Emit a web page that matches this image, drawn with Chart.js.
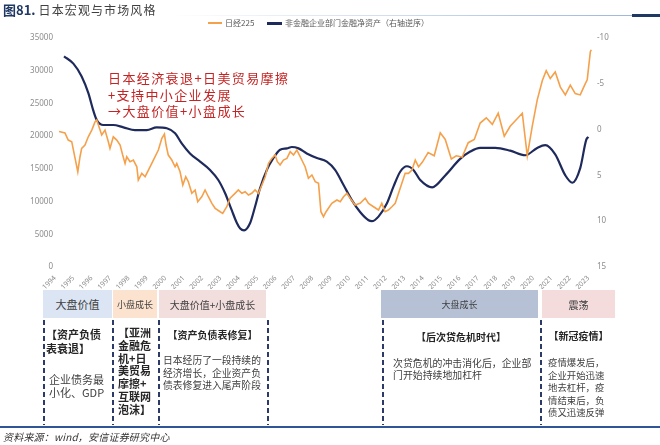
<!DOCTYPE html>
<html>
<head>
<meta charset="utf-8">
<script src="https://cdn.jsdelivr.net/npm/chart.js@4.4.1/dist/chart.umd.min.js"></script>
<style>
  body { margin: 0; background: #fff; }
  #wrap { position: relative; width: 660px; height: 445px; overflow: hidden;
          font-family: "Noto Sans CJK SC", "Noto Sans", sans-serif; color: #404040; }
  #wrap canvas { position: absolute; left: 0; top: 0; }
  .abs { position: absolute; white-space: nowrap; }
  .hdr { position: absolute; top: 290px; height: 28px; display: flex;
         align-items: center; justify-content: center; color: #404040; }
  .dash { position: absolute; top: 320px; height: 105px; width: 1.5px;
          background: repeating-linear-gradient(to bottom, #2b3a67 0 5px, transparent 5px 8px); }
  .bold { font-weight: bold; color: #262626; }
</style>
</head>
<body>
<div id="wrap">
  <canvas id="chart" width="660" height="445"></canvas>

  <!-- title -->
  <div class="abs" style="left:3px;top:0px;line-height:16px;">
    <span style="font-size:13px;font-weight:bold;color:#1f3864;">图81.</span><span style="font-size:12px;letter-spacing:1.1px;color:#404040;margin-left:3px;">日本宏观与市场风格</span>
  </div>
  <div class="abs" style="left:170px;top:15px;width:462px;height:1px;background:linear-gradient(to right,#ffffff,#9fb6dc);"></div>
  <div class="abs" style="left:632px;top:14px;width:28px;height:3px;background:#1f3864;"></div>

  <!-- legend -->
  <div class="abs" style="left:208px;top:22px;width:14px;height:2px;background:#f5a04a;"></div>
  <div class="abs" style="left:225px;top:17px;font-size:8px;line-height:12px;color:#595959;">日经225</div>
  <div class="abs" style="left:267px;top:22px;width:15px;height:2.5px;background:#1f2a5c;"></div>
  <div class="abs" style="left:285px;top:17px;font-size:8px;line-height:12px;color:#595959;">非金融企业部门金融净资产（右轴逆序）</div>

  <!-- annotation -->
  <div class="abs" style="left:108px;top:70px;font-size:13px;line-height:16.5px;letter-spacing:1.4px;color:#c42424;">
    日本经济衰退+日美贸易摩擦<br>+支持中小企业发展<br>→大盘价值+小盘成长
  </div>

  <!-- header boxes -->
  <div class="hdr" style="left:43px;width:69px;background:#dbe5f3;font-size:11px;">大盘价值</div>
  <div class="hdr" style="left:113px;width:44px;background:#fbe3cf;font-size:9px;">小盘成长</div>
  <div class="hdr" style="left:159px;width:107px;background:#f3dede;font-size:10px;">大盘价值+小盘成长</div>
  <div class="hdr" style="left:381px;width:157px;background:#b6c1d5;font-size:9px;">大盘成长</div>
  <div class="hdr" style="left:542px;width:73px;background:#f4dcdc;font-size:10px;">震荡</div>

  <!-- dashed separators -->
  <div class="dash" style="left:43px;"></div>
  <div class="dash" style="left:112px;"></div>
  <div class="dash" style="left:158px;"></div>
  <div class="dash" style="left:267px;"></div>
  <div class="dash" style="left:382px;"></div>
  <div class="dash" style="left:540px;"></div>

  <!-- column texts -->
  <div class="abs bold" style="left:46px;top:327px;font-size:11px;line-height:14px;">【资产负债<br>表衰退】</div>
  <div class="abs" style="left:49px;top:373px;font-size:11px;line-height:13px;">企业债务最<br>小化、GDP</div>

  <div class="abs bold" style="left:118px;top:326px;font-size:11px;line-height:12.8px;">【亚洲<br>金融危<br>机+日<br>美贸易<br>摩擦+<br>互联网<br>泡沫】</div>

  <div class="abs bold" style="left:159px;width:107px;text-align:center;top:329px;font-size:10px;line-height:12px;">【资产负债表修复】</div>
  <div class="abs" style="left:163px;top:354px;font-size:9.8px;line-height:12.5px;">日本经历了一段持续的<br>经济增长，企业资产负<br>债表修复进入尾声阶段</div>

  <div class="abs bold" style="left:382px;width:158px;text-align:center;top:331px;font-size:10px;line-height:12px;">【后次贷危机时代】</div>
  <div class="abs" style="left:393px;top:357px;font-size:9.9px;line-height:12px;">次贷危机的冲击消化后，企业部<br>门开始持续地加杠杆</div>

  <div class="abs bold" style="left:542px;width:73px;text-align:center;top:330px;font-size:10px;line-height:12px;">【新冠疫情】</div>
  <div class="abs" style="left:548px;top:356px;font-size:9.4px;line-height:12.5px;">疫情爆发后，<br>企业开始迅速<br>地去杠杆，疫<br>情结束后，负<br>债又迅速反弹</div>

  <!-- footer -->
  <div class="abs" style="left:0;top:426px;width:660px;height:2px;background:#2f5597;"></div>
  <div class="abs" style="left:3px;top:430px;font-size:10px;line-height:14px;font-style:italic;letter-spacing:0.2px;color:#333;">资料来源：wind，安信证券研究中心</div>
</div>

<script>
// year ticks on the x axis
const yearTicks = [1994,1995,1996,1997,1998,1999,2000,2001,2002,2003,2004,2005,2006,2007,2008,
  2009,2010,2011,2012,2013,2014,2015,2016,2017,2018,2019,2020,2021,2022,2023];

// 日经225 (left axis)
const nikkeiYears = [1994.22,1994.54,1994.72,1994.91,1995.09,1995.24,1995.36,1995.45,1995.63,1995.81,
  1996.00,1996.18,1996.27,1996.45,1996.54,1996.72,1996.90,1996.99,1997.17,1997.36,1997.54,1997.68,1997.81,1997.90,
  1998.08,1998.26,1998.45,1998.53,1998.72,1998.90,1999.08,1999.35,1999.62,1999.81,1999.95,
  2000.04,2000.16,2000.35,2000.53,2000.62,2000.80,2000.95,2001.11,2001.25,2001.44,2001.62,2001.76,2001.98,
  2002.16,2002.34,2002.53,2002.71,2002.98,2003.12,2003.34,2003.52,2003.79,2003.97,
  2004.16,2004.34,2004.52,2004.70,2004.88,2005.06,2005.25,2005.43,2005.61,2005.79,2005.97,
  2006.09,2006.24,2006.42,2006.61,2006.79,2006.97,2007.15,2007.29,2007.42,2007.60,2007.78,2007.97,
  2008.15,2008.33,2008.46,2008.60,2008.74,2009.05,2009.33,2009.51,2009.69,2009.87,
  2010.05,2010.32,2010.59,2010.87,2011.05,2011.32,2011.59,2011.77,2011.95,
  2012.13,2012.32,2012.50,2012.68,2012.86,2013.04,2013.22,2013.41,2013.59,2013.77,
  2013.97,2014.29,2014.62,2014.95,2015.22,2015.55,2015.82,2016.14,2016.47,2016.80,
  2017.12,2017.45,2017.78,2018.10,2018.43,2018.75,2019.08,2019.41,2019.68,2019.95,
  2020.22,2020.50,2020.71,2020.93,2021.20,2021.48,2021.75,2022.02,2022.29,2022.56,2022.83,2022.94,2023.11,2023.16];
const nikkeiValues = [20700,20500,19400,19150,16650,14560,16850,18130,18640,19900,
  20930,22200,22460,20930,20170,20930,19150,18130,19900,19400,18640,17110,15840,16850,
  16090,16350,15320,13290,14310,13800,14820,16350,17880,19660,20320,
  18640,17110,16350,15320,15840,14560,12530,13800,13040,11260,11770,9980,10740,
  11770,10740,9730,8970,8450,8200,9210,10500,11260,11770,
  11260,11510,11000,11260,11770,11260,12530,13800,15840,16600,17110,
  16090,15590,16350,16600,17620,17110,17880,17110,16350,15320,13550,14060,
  13040,12790,8450,7690,8450,9730,10240,9980,10740,11260,
  10500,9470,9730,10500,9730,9210,8710,9730,8450,
  8710,9210,9730,11260,12790,14310,14310,14820,16350,15320,
  16000,17500,17000,20500,19500,16500,17000,16800,19000,19500,
  22000,22800,21800,23500,20000,21500,22500,23500,17000,21500,
  25500,28500,30000,28800,29800,27500,26300,27800,26500,26300,28000,28600,32900,33200];

// 非金融企业部门金融净资产 (right axis, reversed)
const assetYears = [1994.49,1995.00,1995.45,1995.81,1996.08,1996.27,1996.63,1997.17,1997.72,1998.35,1998.99,
  1999.53,2000.08,2000.53,2000.89,2001.34,2001.89,2002.43,2002.88,2003.25,2003.61,2003.89,
  2004.07,2004.28,2004.61,2004.88,2005.15,2005.52,2005.88,2006.24,2006.61,2006.88,2007.24,2007.69,
  2008.24,2008.78,2009.23,2009.69,2010.14,2010.59,2011.05,2011.23,2011.59,2012.05,2012.41,2012.77,
  2013.14,2013.49,2013.86,2014.51,2015.22,2016.03,2016.58,2017.12,2017.94,2018.75,2019.57,
  2020.22,2020.66,2021.20,2021.75,2022.13,2022.56,2022.89,2023.00];
const assetValues = [-8.0,-7.2,-5.8,-4.0,-2.1,-1.05,-0.5,-0.5,-0.25,0.05,0.05,
  -0.25,-0.15,0.4,1.5,2.6,3.5,4.4,5.5,6.95,8.8,10.2,
  10.8,11.0,10.2,8.4,6.4,4.4,3.1,2.2,2.05,1.9,2.05,2.6,
  3.1,3.5,4.4,6.05,7.7,9.0,9.9,10.0,9.5,8.05,6.2,4.6,
  4.0,4.4,5.5,6.3,5.0,3.2,2.4,2.0,2.0,2.3,2.8,
  2.0,1.7,2.7,5.0,5.8,4.2,1.1,0.8];

const leftTicks = [0,5000,10000,15000,20000,25000,30000,35000];
const rightTicks = [-10,-5,0,5,10,15];

const toPoints = (xs, ys) => xs.map((x, i) => ({ x: x, y: ys[i] }));
const tickFont = { family: '"Noto Sans", sans-serif', size: 8 };
const noGrid = { display: false, drawTicks: false };

new Chart(document.getElementById('chart'), {
  type: 'line',
  data: {
    datasets: [
      {
        label: '日经225',
        data: toPoints(nikkeiYears, nikkeiValues),
        yAxisID: 'y',
        borderColor: '#f5a04a',
        borderWidth: 1.6,
        pointRadius: 0,
        tension: 0
      },
      {
        label: '非金融企业部门金融净资产（右轴逆序）',
        data: toPoints(assetYears, assetValues),
        yAxisID: 'y1',
        borderColor: '#1f2a5c',
        borderWidth: 2.2,
        pointRadius: 0,
        cubicInterpolationMode: 'monotone'
      }
    ]
  },
  options: {
    responsive: false,
    animation: false,
    layout: { padding: { left: 0, right: 38, top: 38, bottom: 156 } },
    plugins: { legend: { display: false }, tooltip: { enabled: false } },
    scales: {
      x: {
        type: 'linear',
        min: 1994,
        max: 2023.2,
        grid: noGrid,
        border: { display: false },
        afterBuildTicks: s => { s.ticks = yearTicks.map(v => ({ value: v })); },
        afterFit: s => { s.height = 22; },
        ticks: {
          autoSkip: false,
          minRotation: 45,
          maxRotation: 45,
          padding: 7,
          color: '#8c8c8c',
          font: { family: '"Noto Sans", sans-serif', size: 7 },
          callback: v => String(v)
        }
      },
      y: {
        position: 'left',
        min: 0,
        max: 35000,
        grid: noGrid,
        border: { display: false },
        afterBuildTicks: s => { s.ticks = leftTicks.map(v => ({ value: v })); },
        afterFit: s => { s.width = 55; },
        ticks: { autoSkip: false, padding: 2, color: '#8c8c8c', font: tickFont, callback: v => String(v) }
      },
      y1: {
        position: 'right',
        reverse: true,
        min: -10,
        max: 15,
        grid: noGrid,
        border: { display: false },
        afterBuildTicks: s => { s.ticks = rightTicks.map(v => ({ value: v })); },
        afterFit: s => { s.width = 30; },
        ticks: { autoSkip: false, padding: 5, color: '#8c8c8c', font: tickFont, callback: v => String(v) }
      }
    }
  }
});
</script>
</body>
</html>
